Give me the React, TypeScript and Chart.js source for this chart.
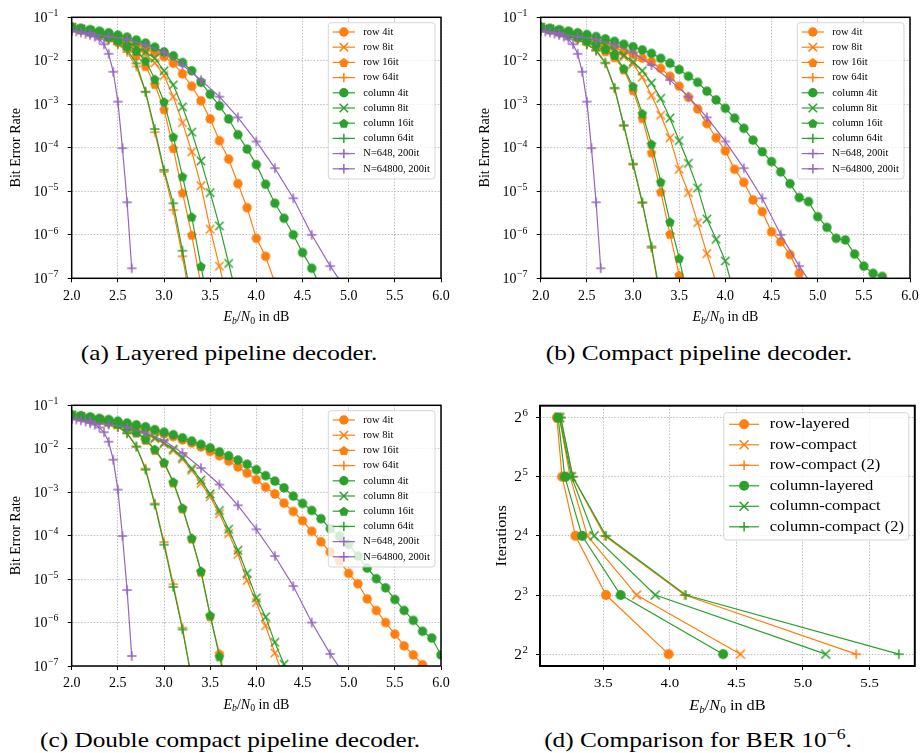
import { useEffect, useRef } from "react";
import { Chart, registerables } from "chart.js";

Chart.register(...registerables);

const SERIF = '"Liberation Serif", "Times New Roman", Times, serif';
const ORANGE = "#ff7f0e";
const GREEN = "#2ca02c";
const PURPLE = "#9467bd";

// ---- Eb/N0 sweeps (dB) ----
const EBN0 = [2.0, 2.1, 2.2, 2.3, 2.4, 2.5, 2.6, 2.7, 2.8, 2.9, 3.0, 3.1, 3.2, 3.3, 3.4, 3.5, 3.6, 3.7, 3.8, 3.9, 4.0, 4.1, 4.2, 4.3, 4.4, 4.5, 4.6, 4.7, 4.8, 4.9, 5.0, 5.1, 5.2, 5.3, 5.4, 5.5, 5.6, 5.7, 5.8, 5.9, 6.0];
const EBN0_648 = [2.0, 2.2, 2.4, 2.6, 2.8, 3.0, 3.2, 3.4, 3.6, 3.8, 4.0, 4.2, 4.4, 4.6, 4.8, 5.0];
const EBN0_64800 = [2.0, 2.05, 2.1, 2.15, 2.2, 2.25, 2.3, 2.35, 2.4, 2.45, 2.5, 2.55, 2.6, 2.65];

// ---- reference decoders (200 iterations) ----
const BER_648 = [4.9e-2, 4.3e-2, 3.6e-2, 3.1e-2, 2.3e-2, 1.55e-2, 8.0e-3, 3.6e-3, 1.5e-3, 5.0e-4, 1.4e-4, 3.4e-5, 6.9e-6, 1.0e-6, 1.9e-7, 4.5e-8];
const BER_64800 = [4.9e-2, 4.7e-2, 4.5e-2, 4.2e-2, 3.9e-2, 3.6e-2, 3.1e-2, 2.4e-2, 1.45e-2, 5.6e-3, 1.15e-3, 9.8e-5, 5.6e-6, 1.7e-7];

// ---- (a) layered pipeline decoder ----
const LAYERED_ROW_4 = [5.8e-2, 5.3e-2, 4.8e-2, 4.3e-2, 3.8e-2, 3.3e-2, 2.8e-2, 2.3e-2, 1.9e-2, 1.55e-2, 1.25e-2, 8.8e-3, 5.0e-3, 2.6e-3, 1.2e-3, 4.6e-4, 1.45e-4, 5.5e-5, 1.5e-5, 4.2e-6, 8.3e-7, 3.2e-7, 8e-8];
const LAYERED_ROW_8 = [5.8e-2, 5.3e-2, 4.7e-2, 4.1e-2, 3.5e-2, 2.95e-2, 2.4e-2, 1.9e-2, 1.4e-2, 9.0e-3, 4.6e-3, 1.5e-3, 3.8e-4, 8.1e-5, 1.35e-5, 1.35e-6, 1.9e-7, 2.5e-8];
const LAYERED_ROW_16 = [5.8e-2, 5.2e-2, 4.6e-2, 4.0e-2, 3.4e-2, 2.75e-2, 2.0e-2, 1.35e-2, 7.5e-3, 2.9e-3, 7.7e-4, 9.8e-5, 9.3e-6, 1.0e-6, 7e-8];
const LAYERED_ROW_64 = [5.8e-2, 5.2e-2, 4.5e-2, 3.8e-2, 3.1e-2, 2.4e-2, 1.6e-2, 7.4e-3, 1.9e-3, 2.3e-4, 2.8e-5, 3.7e-6, 3.2e-7, 2e-8];
const LAYERED_COL_4 = [6.0e-2, 5.6e-2, 5.2e-2, 4.8e-2, 4.4e-2, 3.9e-2, 3.5e-2, 3.0e-2, 2.55e-2, 2.05e-2, 1.6e-2, 1.3e-2, 9.1e-3, 5.9e-3, 3.2e-3, 1.7e-3, 9.2e-4, 4.6e-4, 2.0e-4, 9.3e-5, 4.1e-5, 1.45e-5, 5.3e-6, 2.4e-6, 1.0e-6, 3.9e-7, 1.7e-7, 6e-8];
const LAYERED_COL_8 = [5.9e-2, 5.4e-2, 4.9e-2, 4.4e-2, 3.8e-2, 3.3e-2, 2.7e-2, 2.1e-2, 1.6e-2, 1.15e-2, 5.9e-3, 2.8e-3, 8.7e-4, 2.3e-4, 5.0e-5, 9.3e-6, 1.6e-6, 2.2e-7, 3e-8];
const LAYERED_COL_16 = [5.9e-2, 5.4e-2, 4.8e-2, 4.2e-2, 3.6e-2, 3.0e-2, 2.3e-2, 1.7e-2, 1.0e-2, 3.8e-3, 1.15e-3, 1.8e-4, 2.2e-5, 2.6e-6, 1.9e-7, 1.5e-8];
const LAYERED_COL_64 = [5.8e-2, 5.2e-2, 4.5e-2, 3.8e-2, 3.1e-2, 2.5e-2, 1.8e-2, 8.7e-3, 1.95e-3, 2.7e-4, 3.1e-5, 5.3e-6, 4.3e-7, 3e-8];

// ---- (b) compact pipeline decoder ----
const COMPACT_ROW_4 = [5.8e-2, 5.3e-2, 4.8e-2, 4.3e-2, 3.8e-2, 3.3e-2, 2.85e-2, 2.4e-2, 2.0e-2, 1.65e-2, 1.4e-2, 1.15e-2, 9.5e-3, 6.7e-3, 4.4e-3, 2.6e-3, 1.45e-3, 7.8e-4, 3.6e-4, 1.7e-4, 8.5e-5, 3.2e-5, 1.6e-5, 6.3e-6, 3.4e-6, 1.17e-6, 6.9e-7, 3.5e-7, 1.3e-7, 7e-8];
const COMPACT_ROW_8 = [5.8e-2, 5.3e-2, 4.8e-2, 4.3e-2, 3.7e-2, 3.2e-2, 2.6e-2, 2.1e-2, 1.65e-2, 1.25e-2, 8.5e-3, 4.2e-3, 1.6e-3, 5.6e-4, 1.7e-4, 3.2e-5, 9.3e-6, 1.9e-6, 3.7e-7, 8e-8];
const COMPACT_ROW_16 = [5.8e-2, 5.2e-2, 4.6e-2, 4.0e-2, 3.4e-2, 2.8e-2, 2.2e-2, 1.65e-2, 1.2e-2, 6.3e-3, 2.1e-3, 4.8e-4, 7.8e-5, 9.8e-6, 1.05e-6, 1.2e-7, 1e-8];
const COMPACT_ROW_64 = [5.8e-2, 5.2e-2, 4.5e-2, 3.8e-2, 3.1e-2, 2.4e-2, 1.7e-2, 8.7e-3, 2.3e-3, 3.2e-4, 4.1e-5, 5.4e-6, 5.0e-7, 3e-8];
const COMPACT_COL_4 = [6.0e-2, 5.6e-2, 5.2e-2, 4.8e-2, 4.4e-2, 4.0e-2, 3.6e-2, 3.2e-2, 2.8e-2, 2.4e-2, 2.1e-2, 1.78e-2, 1.48e-2, 1.14e-2, 8.8e-3, 6.3e-3, 4.4e-3, 3.2e-3, 2.0e-3, 1.26e-3, 8.1e-4, 4.8e-4, 2.8e-4, 1.5e-4, 8.1e-5, 4.8e-5, 2.8e-5, 1.5e-5, 7.2e-6, 5.8e-6, 2.6e-6, 1.48e-6, 8.3e-7, 7.6e-7, 3.6e-7, 1.9e-7, 1.3e-7, 1.1e-7];
const COMPACT_COL_8 = [5.9e-2, 5.4e-2, 4.9e-2, 4.4e-2, 3.9e-2, 3.4e-2, 2.9e-2, 2.3e-2, 1.8e-2, 1.35e-2, 9.5e-3, 5.9e-3, 3.1e-3, 1.37e-3, 4.8e-4, 1.46e-4, 4.4e-5, 1.2e-5, 2.3e-6, 7.9e-7, 2.5e-7, 4e-8];
const COMPACT_COL_16 = [5.9e-2, 5.4e-2, 4.8e-2, 4.2e-2, 3.6e-2, 3.0e-2, 2.4e-2, 1.85e-2, 1.35e-2, 6.7e-3, 2.6e-3, 6.2e-4, 1.23e-4, 1.66e-5, 2.0e-6, 2.9e-7, 3e-8];
const COMPACT_COL_64 = [5.8e-2, 5.2e-2, 4.5e-2, 3.8e-2, 3.1e-2, 2.4e-2, 1.75e-2, 9.1e-3, 2.4e-3, 3.3e-4, 4.3e-5, 5.6e-6, 5.4e-7, 3.5e-8];

// ---- (c) double compact pipeline decoder ----
const DOUBLE_ROW_4 = [5.9e-2, 5.5e-2, 5.1e-2, 4.8e-2, 4.4e-2, 4.0e-2, 3.6e-2, 3.2e-2, 2.9e-2, 2.6e-2, 2.2e-2, 1.9e-2, 1.6e-2, 1.35e-2, 1.1e-2, 8.7e-3, 6.9e-3, 5.2e-3, 3.8e-3, 2.75e-3, 1.95e-3, 1.3e-3, 9.1e-4, 5.6e-4, 3.6e-4, 2.2e-4, 1.26e-4, 7.2e-5, 4.2e-5, 2.6e-5, 1.35e-5, 7.8e-6, 3.5e-6, 1.9e-6, 1.0e-6, 5.4e-7, 2.9e-7, 1.8e-7, 1.07e-7, 5e-8];
const DOUBLE_ROW_8 = [5.9e-2, 5.4e-2, 4.9e-2, 4.5e-2, 4.0e-2, 3.55e-2, 3.1e-2, 2.6e-2, 2.15e-2, 1.7e-2, 1.3e-2, 9.1e-3, 5.8e-3, 3.2e-3, 1.6e-3, 7.9e-4, 3.2e-4, 1.12e-4, 3.7e-5, 9.3e-6, 2.9e-6, 8.5e-7, 2.0e-7, 5e-8];
const DOUBLE_ROW_16 = [5.9e-2, 5.5e-2, 5.0e-2, 4.6e-2, 4.2e-2, 3.7e-2, 3.1e-2, 2.35e-2, 1.6e-2, 9.3e-3, 4.7e-3, 1.66e-3, 4.2e-4, 8.5e-5, 1.45e-5, 1.38e-6, 1.95e-7, 2.5e-8];
const DOUBLE_ROW_64 = [5.9e-2, 5.4e-2, 4.9e-2, 4.4e-2, 3.8e-2, 3.2e-2, 2.25e-2, 1.12e-2, 3.5e-3, 5.5e-4, 7.1e-5, 7.6e-6, 7.6e-7, 5e-8];
const DOUBLE_COL_4 = [6.0e-2, 5.75e-2, 5.4e-2, 5.0e-2, 4.7e-2, 4.3e-2, 3.9e-2, 3.55e-2, 3.2e-2, 2.75e-2, 2.4e-2, 2.1e-2, 1.78e-2, 1.5e-2, 1.26e-2, 1.05e-2, 8.5e-3, 6.9e-3, 5.5e-3, 4.4e-3, 3.3e-3, 2.4e-3, 1.8e-3, 1.26e-3, 8.1e-4, 5.5e-4, 3.8e-4, 2.45e-4, 1.45e-4, 9.8e-5, 6.3e-5, 3.4e-5, 1.8e-5, 1.02e-5, 6.3e-6, 3.4e-6, 1.9e-6, 1.12e-6, 6.3e-7, 4.4e-7, 1.8e-7];
const DOUBLE_COL_8 = [6.0e-2, 5.5e-2, 5.0e-2, 4.6e-2, 4.2e-2, 3.7e-2, 3.2e-2, 2.75e-2, 2.3e-2, 1.8e-2, 1.38e-2, 9.8e-3, 6.3e-3, 3.5e-3, 1.9e-3, 9.1e-4, 3.8e-4, 1.4e-4, 4.6e-5, 1.35e-5, 3.7e-6, 1.35e-6, 3.5e-7, 1.1e-7, 3e-8];
const DOUBLE_COL_16 = [6.0e-2, 5.6e-2, 5.1e-2, 4.7e-2, 4.3e-2, 3.8e-2, 3.2e-2, 2.4e-2, 1.66e-2, 9.8e-3, 4.9e-3, 1.74e-3, 4.4e-4, 8.9e-5, 1.55e-5, 1.48e-6, 1.66e-7, 2e-8];
const DOUBLE_COL_64 = [6.0e-2, 5.5e-2, 5.0e-2, 4.5e-2, 3.9e-2, 3.2e-2, 2.3e-2, 1.12e-2, 3.3e-3, 5.2e-4, 6.2e-5, 6.6e-6, 6.9e-7, 5e-8];

// ---- (d) Eb/N0 needed for BER 1e-6 ----
const ITERATIONS = [4, 8, 16, 32, 64];
const ROW_LAYERED = [3.99, 3.52, 3.29, 3.19, 3.15];
const ROW_COMPACT = [4.53, 3.75, 3.38, 3.25, 3.17];
const ROW_COMPACT_2 = [5.40, 4.11, 3.51, 3.27, 3.18];
const COL_LAYERED = [4.40, 3.63, 3.34, 3.21, 3.16];
const COL_COMPACT = [5.17, 3.89, 3.43, 3.26, 3.17];
const COL_COMPACT_2 = [5.72, 4.12, 3.52, 3.27, 3.18];

// ---- axis ticks ----
const BER_X_TICKS = [2.0, 2.5, 3.0, 3.5, 4.0, 4.5, 5.0, 5.5, 6.0];
const BER_Y_EXPONENTS = [-1, -2, -3, -4, -5, -6, -7];
const CMP_X_TICKS = [3.5, 4.0, 4.5, 5.0, 5.5];
const CMP_Y_EXPONENTS = [2, 3, 4, 5, 6];

type Marker = "circle" | "x" | "pentagon" | "plus";
interface Series { label: string; x: number[]; y: number[]; color: string; marker: Marker; }
interface MarkSizes { circle: number; x: number; pentagon: number; plus: number; }

const BER_MARKS: MarkSizes = { circle: 4.7, x: 4.2, pentagon: 5.0, plus: 4.7 };
const CMP_MARKS: MarkSizes = { circle: 5.0, x: 4.5, pentagon: 5.0, plus: 4.8 };

function berSeries(r4: number[], r8: number[], r16: number[], r64: number[], c4: number[], c8: number[], c16: number[], c64: number[]): Series[] {
  return [
    { label: "row 4it", x: EBN0, y: r4, color: ORANGE, marker: "circle" },
    { label: "row 8it", x: EBN0, y: r8, color: ORANGE, marker: "x" },
    { label: "row 16it", x: EBN0, y: r16, color: ORANGE, marker: "pentagon" },
    { label: "row 64it", x: EBN0, y: r64, color: ORANGE, marker: "plus" },
    { label: "column 4it", x: EBN0, y: c4, color: GREEN, marker: "circle" },
    { label: "column 8it", x: EBN0, y: c8, color: GREEN, marker: "x" },
    { label: "column 16it", x: EBN0, y: c16, color: GREEN, marker: "pentagon" },
    { label: "column 64it", x: EBN0, y: c64, color: GREEN, marker: "plus" },
    { label: "N=648, 200it", x: EBN0_648, y: BER_648, color: PURPLE, marker: "plus" },
    { label: "N=64800, 200it", x: EBN0_64800, y: BER_64800, color: PURPLE, marker: "plus" },
  ];
}

const CMP_SERIES: Series[] = [
  { label: "row-layered", x: ROW_LAYERED, y: ITERATIONS, color: ORANGE, marker: "circle" },
  { label: "row-compact", x: ROW_COMPACT, y: ITERATIONS, color: ORANGE, marker: "x" },
  { label: "row-compact (2)", x: ROW_COMPACT_2, y: ITERATIONS, color: ORANGE, marker: "plus" },
  { label: "column-layered", x: COL_LAYERED, y: ITERATIONS, color: GREEN, marker: "circle" },
  { label: "column-compact", x: COL_COMPACT, y: ITERATIONS, color: GREEN, marker: "x" },
  { label: "column-compact (2)", x: COL_COMPACT_2, y: ITERATIONS, color: GREEN, marker: "plus" },
];

// ---- drawing helpers ----
function drawMarker(ctx: CanvasRenderingContext2D, m: Marker, x: number, y: number, color: string, s: MarkSizes) {
  ctx.save();
  ctx.fillStyle = color;
  ctx.strokeStyle = color;
  if (m === "circle") {
    ctx.beginPath();
    ctx.arc(x, y, s.circle, 0, Math.PI * 2);
    ctx.fill();
  } else if (m === "pentagon") {
    ctx.beginPath();
    for (let k = 0; k < 5; k++) {
      const a = -Math.PI / 2 + (k * 2 * Math.PI) / 5;
      const px = x + s.pentagon * Math.cos(a);
      const py = y + s.pentagon * Math.sin(a) + 0.6;
      if (k === 0) ctx.moveTo(px, py); else ctx.lineTo(px, py);
    }
    ctx.closePath();
    ctx.fill();
  } else {
    ctx.lineWidth = 1.5;
    ctx.beginPath();
    if (m === "x") {
      const h = s.x;
      ctx.moveTo(x - h, y - h); ctx.lineTo(x + h, y + h);
      ctx.moveTo(x - h, y + h); ctx.lineTo(x + h, y - h);
    } else {
      const h = s.plus;
      ctx.moveTo(x - h, y); ctx.lineTo(x + h, y);
      ctx.moveTo(x, y - h); ctx.lineTo(x, y + h);
    }
    ctx.stroke();
  }
  ctx.restore();
}

function markerSprite(m: Marker, color: string, s: MarkSizes): HTMLCanvasElement {
  const size = 16;
  const c = document.createElement("canvas");
  c.width = size;
  c.height = size;
  const ctx = c.getContext("2d")!;
  drawMarker(ctx, m, size / 2, size / 2, color, s);
  return c;
}

function toDatasets(series: Series[], s: MarkSizes) {
  const n = series.length;
  return series.map((d, i) => ({
    label: d.label,
    data: d.y.map((v, k) => ({ x: d.x[k], y: v })),
    borderColor: d.color,
    backgroundColor: d.color,
    borderWidth: 1.2,
    pointStyle: markerSprite(d.marker, d.color, s),
    pointRadius: 5,
    pointHoverRadius: 5,
    pointHitRadius: 0,
    tension: 0,
    fill: false,
    clip: 0,
    order: n - i,
  }));
}

function drawPow(ctx: CanvasRenderingContext2D, base: string, exp: string, xr: number, y: number, size: number, sx: number) {
  ctx.save();
  ctx.translate(xr, y);
  ctx.scale(sx, 1);
  ctx.fillStyle = "#000";
  ctx.textBaseline = "alphabetic";
  ctx.textAlign = "right";
  const supSize = size * 0.7;
  ctx.font = `${supSize}px ${SERIF}`;
  const supW = ctx.measureText(exp).width;
  ctx.fillText(exp, 0, size * 0.33 - size * 0.42);
  ctx.font = `${size}px ${SERIF}`;
  ctx.fillText(base, -supW - 0.5, size * 0.33);
  ctx.restore();
}

function drawText(ctx: CanvasRenderingContext2D, s: string, x: number, y: number, size: number, sx: number, align: CanvasTextAlign = "center") {
  ctx.save();
  ctx.translate(x, y);
  ctx.scale(sx, 1);
  ctx.fillStyle = "#000";
  ctx.font = `${size}px ${SERIF}`;
  ctx.textAlign = align;
  ctx.textBaseline = "middle";
  ctx.fillText(s, 0, 0);
  ctx.restore();
}

function drawEbN0(ctx: CanvasRenderingContext2D, cx: number, cy: number, size: number, sx: number) {
  const sub = size * 0.7;
  const parts = [
    { t: "E", f: `italic ${size}px ${SERIF}`, dy: 0 },
    { t: "b", f: `italic ${sub}px ${SERIF}`, dy: size * 0.2 },
    { t: "/", f: `${size}px ${SERIF}`, dy: 0 },
    { t: "N", f: `italic ${size}px ${SERIF}`, dy: 0 },
    { t: "0", f: `${sub}px ${SERIF}`, dy: size * 0.2 },
    { t: " in dB", f: `${size}px ${SERIF}`, dy: 0 },
  ];
  ctx.save();
  ctx.translate(cx, cy);
  ctx.scale(sx, 1);
  ctx.fillStyle = "#000";
  ctx.textAlign = "left";
  ctx.textBaseline = "alphabetic";
  const widths = parts.map((p) => { ctx.font = p.f; return ctx.measureText(p.t).width; });
  let x = -widths.reduce((a, b) => a + b, 0) / 2;
  parts.forEach((p, i) => {
    ctx.font = p.f;
    ctx.fillText(p.t, x, size * 0.33 + p.dy);
    x += widths[i];
  });
  ctx.restore();
}

function drawYTitle(ctx: CanvasRenderingContext2D, s: string, x: number, cy: number, size: number, sx: number) {
  ctx.save();
  ctx.translate(x, cy);
  ctx.rotate(-Math.PI / 2);
  ctx.scale(sx, 1);
  ctx.fillStyle = "#000";
  ctx.font = `${size}px ${SERIF}`;
  ctx.textAlign = "center";
  ctx.textBaseline = "middle";
  ctx.fillText(s, 0, 0);
  ctx.restore();
}

interface LegendSpec { left: number; top: number; right: number; bottom: number; row0: number; gap: number; h0: number; h1: number; tx: number; size: number; sx: number; }

const BER_LEGEND: LegendSpec = { left: 112.7, top: 5.4, right: 6, bottom: 161.7, row0: 14.7, gap: 15.2, h0: 108.3, h1: 86, tx: 77.7, size: 10.5, sx: 1 };
const CMP_LEGEND: LegendSpec = { left: 191, top: 7, right: 6, bottom: 134.3, row0: 18.6, gap: 20.5, h0: 185.7, h1: 155.7, tx: 145, size: 15, sx: 1.1 };

function drawLegend(ctx: CanvasRenderingContext2D, area: { top: number; right: number }, series: Series[], L: LegendSpec, marks: MarkSizes) {
  const x0 = area.right - L.left, x1 = area.right - L.right;
  const y0 = area.top + L.top, y1 = area.top + L.bottom;
  const r = 3;
  ctx.save();
  ctx.beginPath();
  ctx.moveTo(x0 + r, y0);
  ctx.lineTo(x1 - r, y0); ctx.quadraticCurveTo(x1, y0, x1, y0 + r);
  ctx.lineTo(x1, y1 - r); ctx.quadraticCurveTo(x1, y1, x1 - r, y1);
  ctx.lineTo(x0 + r, y1); ctx.quadraticCurveTo(x0, y1, x0, y1 - r);
  ctx.lineTo(x0, y0 + r); ctx.quadraticCurveTo(x0, y0, x0 + r, y0);
  ctx.closePath();
  ctx.fillStyle = "rgba(255,255,255,0.8)";
  ctx.fill();
  ctx.strokeStyle = "rgba(204,204,204,0.8)";
  ctx.lineWidth = 1;
  ctx.stroke();
  series.forEach((s, i) => {
    const y = area.top + L.row0 + L.gap * i;
    const hx0 = area.right - L.h0, hx1 = area.right - L.h1;
    ctx.strokeStyle = s.color;
    ctx.lineWidth = 1.2;
    ctx.beginPath();
    ctx.moveTo(hx0, y);
    ctx.lineTo(hx1, y);
    ctx.stroke();
    drawMarker(ctx, s.marker, (hx0 + hx1) / 2, y, s.color, marks);
    drawText(ctx, s.label, area.right - L.tx, y, L.size, L.sx, "left");
  });
  ctx.restore();
}

interface Area { left: number; top: number; right: number; bottom: number; }

function gridOpts() {
  return {
    color: "#b0b0b0",
    lineWidth: 0.8,
    drawTicks: true,
    tickLength: 4,
    tickColor: "#000",
    tickWidth: 1,
    tickBorderDash: [],
  };
}

function berConfig(series: Series[], W: number, H: number, area: Area): any {
  const decor = {
    id: "decor",
    afterDraw(chart: any) {
      const ctx: CanvasRenderingContext2D = chart.ctx;
      const a = chart.chartArea;
      const xs = chart.scales.x, ys = chart.scales.y;
      ctx.save();
      ctx.strokeStyle = "#000";
      ctx.lineWidth = 1.5;
      ctx.strokeRect(a.left, a.top, a.right - a.left, a.bottom - a.top);
      ctx.restore();
      BER_X_TICKS.forEach((v) => drawText(ctx, v.toFixed(1), xs.getPixelForValue(v), a.bottom + 17.7, 14, 1));
      BER_Y_EXPONENTS.forEach((e) => drawPow(ctx, "10", "\u2212" + Math.abs(e), a.left - 13.4, ys.getPixelForValue(Math.pow(10, e)), 14, 1));
      drawEbN0(ctx, (a.left + a.right) / 2, a.bottom + 38, 14, 1);
      drawYTitle(ctx, "Bit Error Rate", a.left - 55.7, (a.top + a.bottom) / 2, 14, 1);
      drawLegend(ctx, a, series, BER_LEGEND, BER_MARKS);
    },
  };
  return {
    type: "line",
    data: { datasets: toDatasets(series, BER_MARKS) },
    plugins: [decor],
    options: {
      responsive: false,
      animation: false,
      devicePixelRatio: 1,
      events: [],
      layout: { padding: { left: 0, top: area.top, right: W - area.right, bottom: 0 } },
      plugins: { legend: { display: false }, tooltip: { enabled: false } },
      scales: {
        x: {
          type: "linear",
          min: 2,
          max: 6,
          afterBuildTicks: (s: any) => { s.ticks = BER_X_TICKS.map((v) => ({ value: v })); },
          afterFit: (s: any) => { s.height = H - area.bottom; },
          ticks: { display: false },
          grid: gridOpts(),
          border: { display: false, dash: [1.5, 1.6] },
        },
        y: {
          type: "logarithmic",
          min: 1e-7,
          max: 1e-1,
          afterBuildTicks: (s: any) => { s.ticks = BER_Y_EXPONENTS.map((e) => ({ value: Math.pow(10, e), major: true })); },
          afterFit: (s: any) => { s.width = area.left; },
          ticks: { display: false },
          grid: gridOpts(),
          border: { display: false, dash: [1.5, 1.6] },
        },
      },
    },
  };
}

function cmpConfig(W: number, H: number, area: Area): any {
  const decor = {
    id: "decor",
    afterDraw(chart: any) {
      const ctx: CanvasRenderingContext2D = chart.ctx;
      const a = chart.chartArea;
      const xs = chart.scales.x, ys = chart.scales.y;
      ctx.save();
      ctx.strokeStyle = "#000";
      ctx.lineWidth = 2;
      ctx.strokeRect(a.left, a.top, a.right - a.left, a.bottom - a.top);
      ctx.restore();
      CMP_X_TICKS.forEach((v) => drawText(ctx, v.toFixed(1), xs.getPixelForValue(v), a.bottom + 17, 13.5, 1.1));
      CMP_Y_EXPONENTS.forEach((e) => drawPow(ctx, "2", String(e), a.left - 12, ys.getPixelForValue(e), 14, 1.1));
      drawEbN0(ctx, (a.left + a.right) / 2, a.bottom + 39, 14.5, 1.12);
      drawYTitle(ctx, "Iterations", a.left - 38.3, (a.top + a.bottom) / 2, 14.5, 1.12);
      drawLegend(ctx, a, CMP_SERIES, CMP_LEGEND, CMP_MARKS);
    },
  };
  // iterations are plotted on a log2 axis
  const series = CMP_SERIES.map((s) => ({ ...s, y: s.y.map((it) => Math.log2(it)) }));
  return {
    type: "line",
    data: { datasets: toDatasets(series, CMP_MARKS) },
    plugins: [decor],
    options: {
      responsive: false,
      animation: false,
      devicePixelRatio: 1,
      events: [],
      layout: { padding: { left: 0, top: area.top, right: W - area.right, bottom: 0 } },
      plugins: { legend: { display: false }, tooltip: { enabled: false } },
      scales: {
        x: {
          type: "linear",
          min: 3.024,
          max: 5.84,
          afterBuildTicks: (s: any) => { s.ticks = CMP_X_TICKS.map((v) => ({ value: v })); },
          afterFit: (s: any) => { s.height = H - area.bottom; },
          ticks: { display: false },
          grid: gridOpts(),
          border: { display: false, dash: [1.5, 1.6] },
        },
        y: {
          type: "linear",
          min: 1.8,
          max: 6.2,
          afterBuildTicks: (s: any) => { s.ticks = CMP_Y_EXPONENTS.map((v) => ({ value: v })); },
          afterFit: (s: any) => { s.width = area.left; },
          ticks: { display: false },
          grid: gridOpts(),
          border: { display: false, dash: [1.5, 1.6] },
        },
      },
    },
  };
}

function Panel({ left, top, width, height, make }: { left: number; top: number; width: number; height: number; make: () => any }) {
  const ref = useRef<HTMLCanvasElement>(null);
  useEffect(() => {
    const chart = new Chart(ref.current!, make());
    return () => chart.destroy();
  }, []);
  return <canvas ref={ref} width={width} height={height} style={{ position: "absolute", left, top, width, height }} />;
}

function Caption({ cx, cy, children }: { cx: number; cy: number; children: any }) {
  return (
    <div
      style={{
        position: "absolute",
        left: cx,
        top: cy,
        transform: "translate(-50%, -50%) scaleX(1.15)",
        font: `22px ${SERIF}`,
        lineHeight: 1,
        whiteSpace: "nowrap",
        color: "#000",
      }}
    >
      {children}
    </div>
  );
}

export default function App() {
  return (
    <div style={{ position: "fixed", left: 0, top: 0, width: 921, height: 753, background: "#fff", overflow: "hidden" }}>
      <Panel left={0} top={0} width={460} height={330}
        make={() => berConfig(berSeries(LAYERED_ROW_4, LAYERED_ROW_8, LAYERED_ROW_16, LAYERED_ROW_64, LAYERED_COL_4, LAYERED_COL_8, LAYERED_COL_16, LAYERED_COL_64), 460, 330, { left: 71.7, top: 17.3, right: 441, bottom: 278.3 })} />
      <Panel left={460} top={0} width={461} height={330}
        make={() => berConfig(berSeries(COMPACT_ROW_4, COMPACT_ROW_8, COMPACT_ROW_16, COMPACT_ROW_64, COMPACT_COL_4, COMPACT_COL_8, COMPACT_COL_16, COMPACT_COL_64), 461, 330, { left: 80.7, top: 17.3, right: 450, bottom: 278.3 })} />
      <Panel left={0} top={388} width={460} height={330}
        make={() => berConfig(berSeries(DOUBLE_ROW_4, DOUBLE_ROW_8, DOUBLE_ROW_16, DOUBLE_ROW_64, DOUBLE_COL_4, DOUBLE_COL_8, DOUBLE_COL_16, DOUBLE_COL_64), 460, 330, { left: 71.7, top: 17.3, right: 441, bottom: 278 })} />
      <Panel left={460} top={388} width={461} height={330}
        make={() => cmpConfig(461, 330, { left: 80, top: 17.7, right: 456.7, bottom: 278 })} />
      <Caption cx={229} cy={353}>(a) Layered pipeline decoder.</Caption>
      <Caption cx={699} cy={353}>(b) Compact pipeline decoder.</Caption>
      <Caption cx={230} cy={740}>(c) Double compact pipeline decoder.</Caption>
      <Caption cx={698} cy={740}>
        (d) Comparison for BER 10<sup style={{ fontSize: "0.7em", verticalAlign: "0.55em", lineHeight: 0 }}>{"\u2212"}6</sup>.
      </Caption>
    </div>
  );
}
